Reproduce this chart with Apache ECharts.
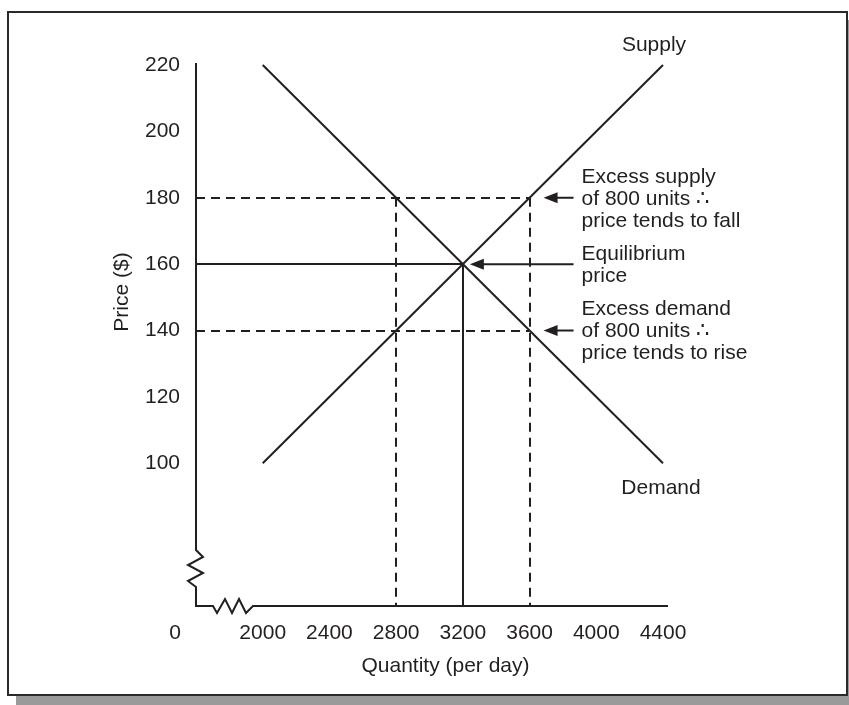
<!DOCTYPE html>
<html>
<head>
<meta charset="utf-8">
<script src="https://cdn.jsdelivr.net/npm/echarts@6/dist/echarts.min.js"></script>
<style>
  html, body { margin: 0; padding: 0; background: #ffffff; }
  #chart { width: 849px; height: 705px; }
</style>
</head>
<body>
<div id="chart"></div>
<script>
// ---------------- data ----------------
const quantityTicks = [1600, 2000, 2400, 2800, 3200, 3600, 4000, 4400];
const quantityTickLabels = ['0', '2000', '2400', '2800', '3200', '3600', '4000', '4400'];
const priceTicks = [100, 120, 140, 160, 180, 200, 220];

const supplyQ = [2000, 4400];
const supplyP = [100, 220];
const demandQ = [2000, 4400];
const demandP = [220, 100];

const equilibriumQ = 3200;
const equilibriumP = 160;
const highPrice = 180;          // excess supply price
const lowPrice = 140;           // excess demand price
const demandQAtHigh = 2800;     // quantity demanded at 180 / supplied at 140
const supplyQAtHigh = 3600;     // quantity supplied at 180 / demanded at 140

const arrowTargetQ = [3600, 3200, 3600];
const arrowTargetP = [180, 160, 140];
const annotationTexts = [
  'Excess supply\nof 800 units \u2234\nprice tends to fall',
  'Equilibrium\nprice',
  'Excess demand\nof 800 units \u2234\nprice tends to rise'
];

const X_MIN = 1600, X_MAX = 4400;
const Y_MIN = 57, Y_MAX = 220;

// ---------------- styles ----------------
const INK = '#231f20';
const FONT = "'Liberation Sans', Arial, Helvetica, sans-serif";
const FS = 21;

const chart = echarts.init(document.getElementById('chart'), null, { renderer: 'canvas' });

function labelText(v) {
  const i = quantityTicks.indexOf(v);
  if (i < 0) return '';
  return i === 0 ? '{zero|' + quantityTickLabels[i] + '}' : quantityTickLabels[i];
}

// axis frame with break zigzags
function renderAxes(params, api) {
  const o = api.coord([X_MIN, Y_MIN]);
  const t = api.coord([X_MIN, Y_MAX]);
  const r = api.coord([X_MAX, Y_MIN]);
  const pts = [
    [o[0], t[1] - 2],
    [o[0], o[1] - 56],
    [o[0] + 7, o[1] - 49],
    [o[0] - 8, o[1] - 41],
    [o[0] + 7, o[1] - 33],
    [o[0] - 8, o[1] - 25],
    [o[0], o[1] - 19],
    [o[0], o[1]],
    [o[0] + 17, o[1]],
    [o[0] + 21, o[1] + 7],
    [o[0] + 29, o[1] - 7],
    [o[0] + 36, o[1] + 7],
    [o[0] + 43, o[1] - 7],
    [o[0] + 50, o[1] + 7],
    [o[0] + 57, o[1]],
    [r[0] + 5, o[1]]
  ];
  return {
    type: 'polyline',
    shape: { points: pts },
    style: { stroke: INK, lineWidth: 2, fill: null, lineJoin: 'miter' }
  };
}

const arrowGap = [14, 7, 14];
function renderArrows(params, api) {
  const i = params.dataIndex;
  const target = api.coord([api.value(0), api.value(1)]);
  const colX = api.coord([supplyQAtHigh, Y_MIN])[0];
  const tailX = colX + 44;
  const tipX = target[0] + arrowGap[i];
  const y = target[1];
  return {
    type: 'group',
    children: [
      { type: 'line', shape: { x1: tipX + 10, y1: y, x2: tailX, y2: y },
        style: { stroke: INK, lineWidth: 2 } },
      { type: 'polygon', shape: { points: [[tipX, y], [tipX + 14, y - 5.5], [tipX + 14, y + 5.5]] },
        style: { fill: INK } },
      { type: 'text', x: tailX + 8, y: y + 1,
        style: { text: annotationTexts[i], fill: INK, font: FS + 'px ' + FONT,
                 verticalAlign: 'middle', align: 'left', lineHeight: 22 } }
    ]
  };
}

// curve names placed at line ends
function renderCurveNames(params, api) {
  const i = params.dataIndex;
  const p = api.coord([api.value(0), api.value(1)]);
  const isSupply = i === 0;
  return {
    type: 'text',
    x: p[0] + (isSupply ? -9 : -2),
    y: p[1] + (isSupply ? -20 : 25),
    style: { text: isSupply ? 'Supply' : 'Demand', fill: INK, font: FS + 'px ' + FONT,
             align: 'center', verticalAlign: 'middle' }
  };
}

const solidGuide = { color: INK, width: 2, type: 'solid' };
const dashedGuide = { color: INK, width: 2, type: [9, 6] };

const option = {
  backgroundColor: '#ffffff',
  animation: false,
  textStyle: { fontFamily: FONT },
  graphic: [
    { type: 'rect', z: -10, shape: { x: 16, y: 20, width: 845, height: 700 },
      style: { fill: '#9a9a9a' } },
    { type: 'rect', z: -9, shape: { x: 8, y: 12, width: 839, height: 683 },
      style: { fill: '#ffffff', stroke: '#2a2a2a', lineWidth: 2 } },
    { type: 'text', x: 122, y: 292, rotation: Math.PI / 2, z: 5,
      style: { text: 'Price ($)', fill: INK, font: FS + 'px ' + FONT, align: 'center', verticalAlign: 'middle' } }
  ],
  grid: { left: 196, right: 186, top: 65, bottom: 99, containLabel: false },
  xAxis: {
    type: 'value', min: X_MIN, max: X_MAX, interval: 400,
    name: 'Quantity (per day)', nameLocation: 'middle', nameGap: 50,
    nameTextStyle: { color: INK, fontSize: FS, fontFamily: FONT, padding: [0, 0, 0, 32] },
    axisLine: { show: false }, axisTick: { show: false }, splitLine: { show: false },
    axisLabel: {
      color: INK, fontSize: FS, fontFamily: FONT, margin: 17,
      formatter: labelText,
      rich: { zero: { color: INK, fontSize: FS, fontFamily: FONT, padding: [0, 42, 0, 0] } }
    }
  },
  yAxis: {
    type: 'value', min: Y_MIN, max: Y_MAX,
    axisLine: { show: false }, axisTick: { show: false }, splitLine: { show: false },
    axisLabel: { color: INK, fontSize: FS, fontFamily: FONT, margin: 16, customValues: priceTicks }
  },
  series: [
    { type: 'custom', renderItem: renderAxes, data: [[X_MIN, Y_MIN]], clip: false, silent: true, z: 3 },
    {
      type: 'line', name: 'Supply', symbol: 'none', silent: true, z: 4,
      lineStyle: { color: INK, width: 2 },
      data: supplyQ.map((q, i) => [q, supplyP[i]])
    },
    {
      type: 'line', name: 'Demand', symbol: 'none', silent: true, z: 4,
      lineStyle: { color: INK, width: 2 },
      data: demandQ.map((q, i) => [q, demandP[i]])
    },
    {
      type: 'custom', renderItem: renderCurveNames, clip: false, silent: true, z: 5,
      data: [[supplyQ[supplyQ.length - 1], supplyP[supplyP.length - 1]],
             [demandQ[demandQ.length - 1], demandP[demandP.length - 1]]]
    },
    {
      type: 'line', data: [], silent: true, z: 2,
      markLine: {
        silent: true, symbol: 'none', label: { show: false }, animation: false,
        data: [
          [{ coord: [X_MIN, equilibriumP], lineStyle: solidGuide }, { coord: [equilibriumQ, equilibriumP] }],
          [{ coord: [equilibriumQ, equilibriumP], lineStyle: solidGuide }, { coord: [equilibriumQ, Y_MIN] }],
          [{ coord: [X_MIN, highPrice], lineStyle: dashedGuide }, { coord: [supplyQAtHigh, highPrice] }],
          [{ coord: [X_MIN, lowPrice], lineStyle: dashedGuide }, { coord: [supplyQAtHigh, lowPrice] }],
          [{ coord: [demandQAtHigh, highPrice], lineStyle: dashedGuide }, { coord: [demandQAtHigh, Y_MIN] }],
          [{ coord: [supplyQAtHigh, highPrice], lineStyle: dashedGuide }, { coord: [supplyQAtHigh, Y_MIN] }]
        ]
      }
    },
    {
      type: 'custom', renderItem: renderArrows, clip: false, silent: true, z: 5,
      data: arrowTargetQ.map((q, i) => [q, arrowTargetP[i]])
    }
  ]
};

chart.setOption(option);
</script>
</body>
</html>
